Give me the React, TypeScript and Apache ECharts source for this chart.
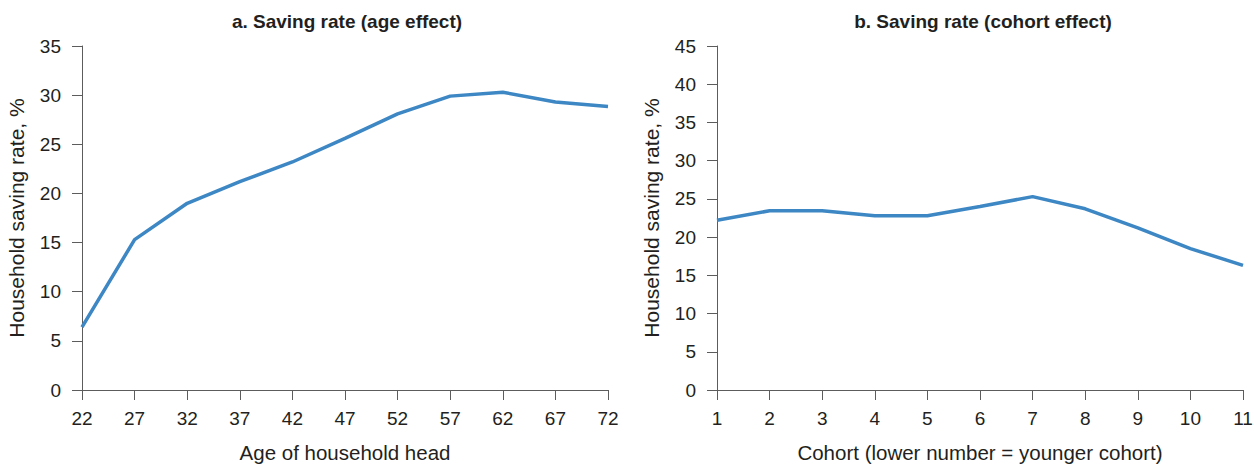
import React, { useEffect, useRef } from "react";
import * as echarts from "echarts";

const ageCategories = ["22", "27", "32", "37", "42", "47", "52", "57", "62", "67", "72"];
const ageSavingRate = [6.4, 15.3, 19.0, 21.2, 23.2, 25.6, 28.1, 29.9, 30.3, 29.3, 28.85];

const cohortCategories = ["1", "2", "3", "4", "5", "6", "7", "8", "9", "10", "11"];
const cohortSavingRate = [22.2, 23.45, 23.45, 22.8, 22.8, 24.0, 25.3, 23.7, 21.2, 18.5, 16.3];

const titleA = "a. Saving rate (age effect)";
const titleB = "b. Saving rate (cohort effect)";
const yName = "Household saving rate, %";
const xNameA = "Age of household head";
const xNameB = "Cohort (lower number = younger cohort)";

const TEXT = "#231f20";
const AXIS = "#5c5c5c";
const LINE = "#3d87c4";
const FONT = "Liberation Sans, Arial, sans-serif";

export default function App() {
  const ref = useRef<HTMLDivElement>(null);
  useEffect(() => {
    if (!ref.current) return;
    const chart = echarts.init(ref.current, null, { renderer: "svg" });
    const xAxisBase = (name: string, gridIndex: number, data: string[]) => ({
      type: "category",
      gridIndex,
      data,
      boundaryGap: false,
      name,
      nameLocation: "middle",
      nameGap: 52,
      nameTextStyle: { color: TEXT, fontSize: 20.5, fontFamily: FONT },
      axisLine: { lineStyle: { color: AXIS, width: 1 } },
      axisTick: { show: true, length: 10, lineStyle: { color: AXIS }, alignWithLabel: true },
      axisLabel: { color: TEXT, fontSize: 19, fontFamily: FONT, margin: 19 },
      splitLine: { show: false },
    });
    const yAxisBase = (gridIndex: number, max: number) => ({
      type: "value",
      gridIndex,
      min: 0,
      max,
      interval: 5,
      name: yName,
      nameLocation: "middle",
      nameGap: 55,
      nameTextStyle: { color: TEXT, fontSize: 21, fontFamily: FONT },
      axisLine: { show: true, lineStyle: { color: AXIS, width: 1 } },
      axisTick: { show: true, length: 10, lineStyle: { color: AXIS } },
      axisLabel: { color: TEXT, fontSize: 19, fontFamily: FONT, margin: 21 },
      splitLine: { show: false },
    });
    chart.setOption({
      animation: false,
      backgroundColor: "#ffffff",
      grid: [
        { left: 82, right: 646, top: 46, bottom: 74, outerBoundsMode: "none", containLabel: false },
        { left: 717, right: 11, top: 46, bottom: 74, outerBoundsMode: "none", containLabel: false },
      ],
      xAxis: [xAxisBase(xNameA, 0, ageCategories), xAxisBase(xNameB, 1, cohortCategories)],
      yAxis: [yAxisBase(0, 35), yAxisBase(1, 45)],
      graphic: [
        {
          type: "text",
          x: 347,
          y: 21,
          style: {
            text: titleA,
            fill: TEXT,
            font: `bold 19px ${FONT}`,
            textAlign: "center",
            textVerticalAlign: "middle",
          },
        },
        {
          type: "text",
          x: 983,
          y: 21,
          style: {
            text: titleB,
            fill: TEXT,
            font: `bold 19px ${FONT}`,
            textAlign: "center",
            textVerticalAlign: "middle",
          },
        },
      ],
      series: [
        {
          type: "line",
          xAxisIndex: 0,
          yAxisIndex: 0,
          data: ageSavingRate,
          symbol: "none",
          lineStyle: { color: LINE, width: 3.5 },
        },
        {
          type: "line",
          xAxisIndex: 1,
          yAxisIndex: 1,
          data: cohortSavingRate,
          symbol: "none",
          lineStyle: { color: LINE, width: 3.5 },
        },
      ],
    });
    return () => chart.dispose();
  }, []);
  return (
    <div
      ref={ref}
      style={{ position: "absolute", left: 0, top: 0, width: 1254, height: 464 }}
    />
  );
}
